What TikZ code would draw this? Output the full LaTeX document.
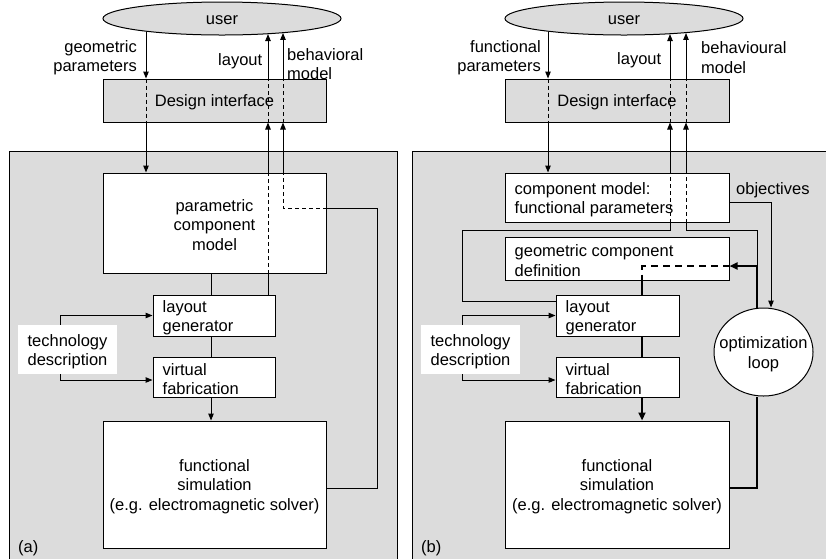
\documentclass[tikz,border=0pt]{standalone}
\usepackage{fontspec}
\setmainfont{Liberation Sans}
\usetikzlibrary{arrows.meta,shapes.geometric,calc}
\definecolor{panelgray}{RGB}{220,220,220}
\begin{document}
\begin{tikzpicture}[x=1pt,y=-1pt,
  every node/.style={font=\fontsize{16.5}{19.5}\selectfont, inner sep=0pt},
  ln/.style={line width=1pt},
  box/.style={draw, fill=white, line width=1pt, rectangle},
  gbox/.style={draw, fill=panelgray, line width=1pt, rectangle},
  uell/.style={ellipse, draw, fill=panelgray, line width=1pt, minimum width=238pt, minimum height=33pt},
  techbox/.style={fill=white, minimum width=99pt, minimum height=49pt},
  ctext/.style={align=center},
  ltext/.style={align=left, anchor=west},
  arr/.style={ln, -{Triangle[length=7pt,width=5.5pt]}},
  dsh/.style={ln, dash pattern=on 4pt off 3pt},
  thk/.style={line width=2.2pt},
  tarr/.style={thk, -{Triangle[length=8pt,width=7pt]}},
  tdsh/.style={thk, dash pattern=on 7pt off 5pt},
]
\path[use as bounding box] (0,0) rectangle (826,558);
\clip (0,0) rectangle (826,558);
% panels
\fill[panelgray] (9,151) rectangle (397,570);
\draw[ln] (9,570) -- (9,151) -- (397,151) -- (397,570);
\fill[panelgray] (412,151) rectangle (840,570);
\draw[ln] (412,570) -- (412,151) -- (840,151);

% ---------------- (a) ----------------
\node[uell] (userA) at (222,18.5) {};
\node[gbox, minimum width=223pt, minimum height=43pt] (diA) at (214.5,100.5) {};
\node[box, minimum width=223pt, minimum height=100pt] (pcmA) at (214.5,223) {};
\node[box, minimum width=122pt, minimum height=41pt] (lgA) at (214,315.5) {};
\node[box, minimum width=122pt, minimum height=40pt] (vfA) at (214,377) {};
\node[box, minimum width=223pt, minimum height=127pt] (fsA) at (214.5,484.5) {};
\node[techbox] (techA) at (67.5,349.5) {};

\node[ctext] (userAt) at ($(userA)+(0,2)$) {user};
\node[ctext] (diAt) at ($(diA)+(0,2)$) {Design interface};
\node[ctext] (pcmAt) at ($(pcmA)+(0,2)$) {parametric\\component\\model};
\node[ltext] (lgAt) at ($(lgA.west)+(10,2)$) {layout\\generator};
\node[ltext] (vfAt) at ($(vfA.west)+(10,2)$) {virtual\\fabrication};
\node[ctext] (fsAt) at ($(fsA)+(0,2)$) {functional\\simulation\\(e.g. electromagnetic solver)};
\node[ctext] (techAt) at ($(techA)+(0,2)$) {technology\\description};

\node[align=right, anchor=east] (lgpA) at (137,57.5) {geometric\\parameters};
\node[anchor=west] (llayA) at (218,61) {layout};
\node[align=left, anchor=west] (lbmA) at (287,64) {behavioral\\model};
\node[anchor=west] (labA) at (18,548) {(a)};

\coordinate (gpA) at (146,0);
\coordinate (laA) at (268,0);
\coordinate (bmA) at (283,0);
\coordinate (cA) at (211,0);
\coordinate (tA) at (60,0);
\coordinate (turnA) at (377,208);

% geometric parameters
\draw[arr] (gpA |- userA.-170.5) -- (gpA |- diA.north);
\draw[dsh] (gpA |- diA.north) -- (gpA |- diA.south);
\draw[arr] (gpA |- diA.south) -- (gpA |- pcmA.north);
% layout
\draw[ln] (laA |- lgA.north) -- (laA |- pcmA.south);
\draw[dsh] (laA |- pcmA.south) -- (laA |- pcmA.north);
\draw[arr] (laA |- pcmA.north) -- (laA |- diA.south);
\draw[dsh] (laA |- diA.south) -- (laA |- diA.north);
\draw[arr] (laA |- diA.north) -- (laA |- userA.-18.3);
% behavioral model
\draw[ln] ($(fsA.east)+(0,3.5)$) -| (turnA) -- (pcmA.east |- turnA);
\draw[dsh] (pcmA.east |- turnA) -| (bmA |- pcmA.north);
\draw[arr] (bmA |- pcmA.north) -- (bmA |- diA.south);
\draw[dsh] (bmA |- diA.south) -- (bmA |- diA.north);
\draw[arr] (bmA |- diA.north) -- (bmA |- userA.-13.1);
% main chain
\draw[ln] (cA |- pcmA.south) -- (cA |- lgA.north);
\draw[ln] (cA |- lgA.south) -- (cA |- vfA.north);
\draw[arr] (cA |- vfA.south) -- (cA |- fsA.north);
% technology
\draw[arr] (tA |- techA.north) |- (lgA.west);
\draw[arr] (tA |- techA.south) |- ($(vfA.west)+(0,3)$);

% ---------------- (b) ----------------
\node[uell] (userB) at (624,18.5) {};
\node[gbox, minimum width=224pt, minimum height=43pt] (diB) at (617,100.5) {};
\node[box, minimum width=224pt, minimum height=49pt] (cmB) at (617,197.5) {};
\node[box, minimum width=224pt, minimum height=43pt] (gcdB) at (617,258.5) {};
\node[box, minimum width=123pt, minimum height=41pt] (lgB) at (617.5,315.5) {};
\node[box, minimum width=123pt, minimum height=40pt] (vfB) at (617.5,377) {};
\node[box, minimum width=224pt, minimum height=127pt] (fsB) at (617,484.5) {};
\node[techbox] (techB) at (470.5,349.5) {};
\node[ellipse, draw, fill=white, line width=1pt, minimum width=99pt, minimum height=88pt] (optB) at (763.5,352) {};

\node[ctext] (userBt) at ($(userB)+(0,2)$) {user};
\node[ctext] (diBt) at ($(diB)+(0,2)$) {Design interface};
\node[ltext] (cmBt) at ($(cmB.west)+(10,2)$) {component model:\\functional parameters};
\node[ltext] (gcdBt) at ($(gcdB.west)+(10,2)$) {geometric component\\definition};
\node[ltext] (lgBt) at ($(lgB.west)+(10,2)$) {layout\\generator};
\node[ltext] (vfBt) at ($(vfB.west)+(10,2)$) {virtual\\fabrication};
\node[ctext] (fsBt) at ($(fsB)+(0,2)$) {functional\\simulation\\(e.g. electromagnetic solver)};
\node[ctext] (techBt) at ($(techB)+(0,2)$) {technology\\description};
\node[ctext] (optBt) at ($(optB)+(0,2)$) {optimization\\loop};

\node[align=right, anchor=east] (lfpB) at (541,57.5) {functional\\parameters};
\node[anchor=west] (llayB) at (617,60) {layout};
\node[align=left, anchor=west] (lbmB) at (701,57.5) {behavioural\\model};
\node[anchor=west] (lobjB) at (736,190) {objectives};
\node[anchor=west] (labB) at (421,548) {(b)};

\coordinate (fpB) at (548,0);
\coordinate (laB) at (670,0);
\coordinate (bhB) at (686,0);
\coordinate (mB) at (642,0);
\coordinate (obB) at (771,0);
\coordinate (opB) at (757,0);
\coordinate (tB) at (462,0);
\coordinate (rowB) at (0,230);
\coordinate (rowG) at (0,266);

% functional parameters
\draw[arr] (fpB |- userB.-170.5) -- (fpB |- diB.north);
\draw[dsh] (fpB |- diB.north) -- (fpB |- diB.south);
\draw[arr] (fpB |- diB.south) -- (fpB |- cmB.north);
% layout
\draw[ln] ($(lgB.west)+(0,-14.5)$) -| (tB |- rowB) -| (laB |- cmB.south);
\draw[dsh] (laB |- cmB.south) -- (laB |- cmB.north);
\draw[arr] (laB |- cmB.north) -- (laB |- diB.south);
\draw[dsh] (laB |- diB.south) -- (laB |- diB.north);
\draw[arr] (laB |- diB.north) -- (laB |- userB.-18.3);
% behavioural model
\draw[ln] (opB |- optB.north) -- (opB |- rowB) -| (bhB |- cmB.south);
\draw[dsh] (bhB |- cmB.south) -- (bhB |- cmB.north);
\draw[arr] (bhB |- cmB.north) -- (bhB |- diB.south);
\draw[dsh] (bhB |- diB.south) -- (bhB |- diB.north);
\draw[arr] (bhB |- diB.north) -- (bhB |- userB.-13.3);
% objectives
\draw[arr] ($(cmB.east)+(0,4.5)$) -| (obB |- optB.north);
% optimization loop (thick)
\draw[tarr] (opB |- optB.north) -- (opB |- rowG) -- (gcdB.east |- rowG);
\draw[tdsh] (gcdB.east |- rowG) -| (mB |- gcdB.south);
\draw[thk] (mB |- gcdB.south) -- (mB |- lgB.north);
\draw[thk] (mB |- lgB.south) -- (mB |- vfB.north);
\draw[tarr] (mB |- vfB.south) -- (mB |- fsB.north);
\draw[thk] ($(fsB.east)+(0,3.5)$) -| (opB |- optB.south);
% technology
\draw[arr] (tB |- techB.north) |- (lgB.west);
\draw[arr] (tB |- techB.south) |- ($(vfB.west)+(0,3)$);
\end{tikzpicture}
\end{document}
